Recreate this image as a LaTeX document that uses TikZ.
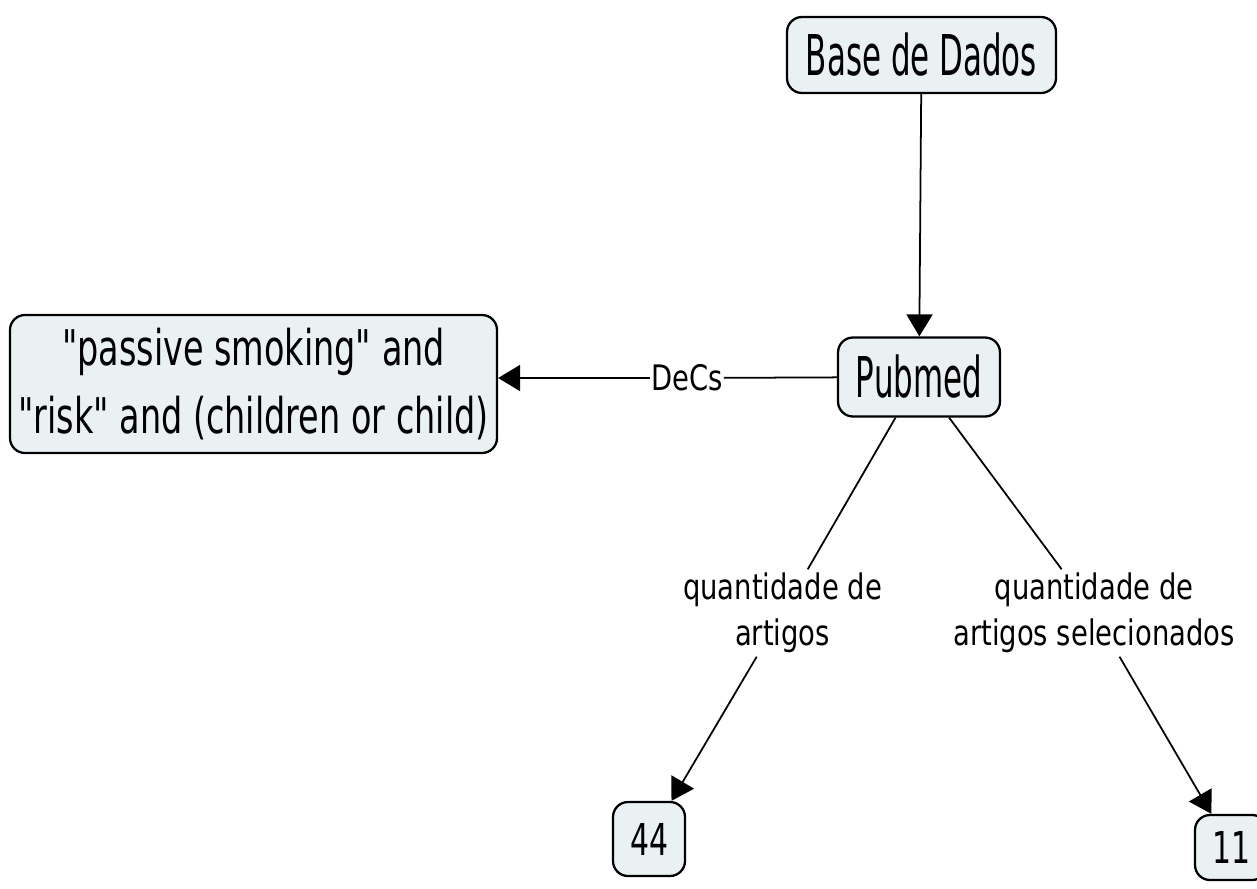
\documentclass[tikz,border=0pt]{standalone}
\usepackage{fontspec}
\setmainfont{DejaVu Sans}
\newfontfamily\narrowfont[FakeStretch=0.55]{DejaVu Sans}
\newfontfamily\midfont[FakeStretch=0.68]{DejaVu Sans}
\newfontfamily\labelfont[FakeStretch=0.78]{DejaVu Sans}
\usetikzlibrary{arrows.meta}
\definecolor{conceptfill}{RGB}{233,241,243}
\tikzset{
  concept/.style={draw, line width=1.3pt, rounded corners=0.3cm, fill=conceptfill,
    align=center, inner sep=0pt},
  linkword/.style={font={\labelfont\fontsize{20}{26}\selectfont}, align=center, inner sep=2pt},
  link/.style={line width=1pt, -{Triangle[length=0.44cm,width=0.52cm]}},
  plain/.style={line width=1pt},
}
\begin{document}
\begin{tikzpicture}
  \useasboundingbox (0,0) rectangle (25.14,-17.78);
  % concepts
  \node (base) at (18.43,-1.1) [concept, minimum width=5.38cm, minimum height=1.52cm,
    font={\narrowfont\fontsize{32}{38}\selectfont}]{Base de Dados};
  \node (pubmed) at (18.38,-7.54) [concept, minimum width=3.24cm, minimum height=1.58cm,
    font={\narrowfont\fontsize{32}{38}\selectfont}]{Pubmed};
  \node (passive) at (5.07,-7.68) [concept, minimum width=9.74cm, minimum height=2.76cm,
    font={\midfont\fontsize{28}{38.7}\selectfont}]{"passive smoking" and\\"risk" and (children or child)};
  \node (n44) at (12.98,-16.78) [concept, minimum width=1.44cm, minimum height=1.48cm,
    font={\midfont\fontsize{25}{30}\selectfont}]{44};
  \node (n11) at (24.62,-16.95) [concept, minimum width=1.44cm, minimum height=1.3cm,
    font={\midfont\fontsize{25}{30}\selectfont}]{11};

  % linking words
  \node (decs) at (13.74,-7.56) [linkword, inner sep=0.5pt]{DeCs};
  \node (qart) at (15.65,-12.26) [linkword]{quantidade de\\artigos};
  \node (qsel) at (21.88,-12.26) [linkword]{quantidade de\\artigos selecionados};

  \draw[link] (base) -- (pubmed);
  \draw[plain] (pubmed) -- (decs);
  \draw[link] (decs) -- (decs -| passive.east);
  \foreach \a/\b in {qart/n44, qsel/n11}
  {
    \draw[plain] (pubmed) -- (\a);
    \draw[link] (\a) -- (\b);
  }
\end{tikzpicture}
\end{document}
